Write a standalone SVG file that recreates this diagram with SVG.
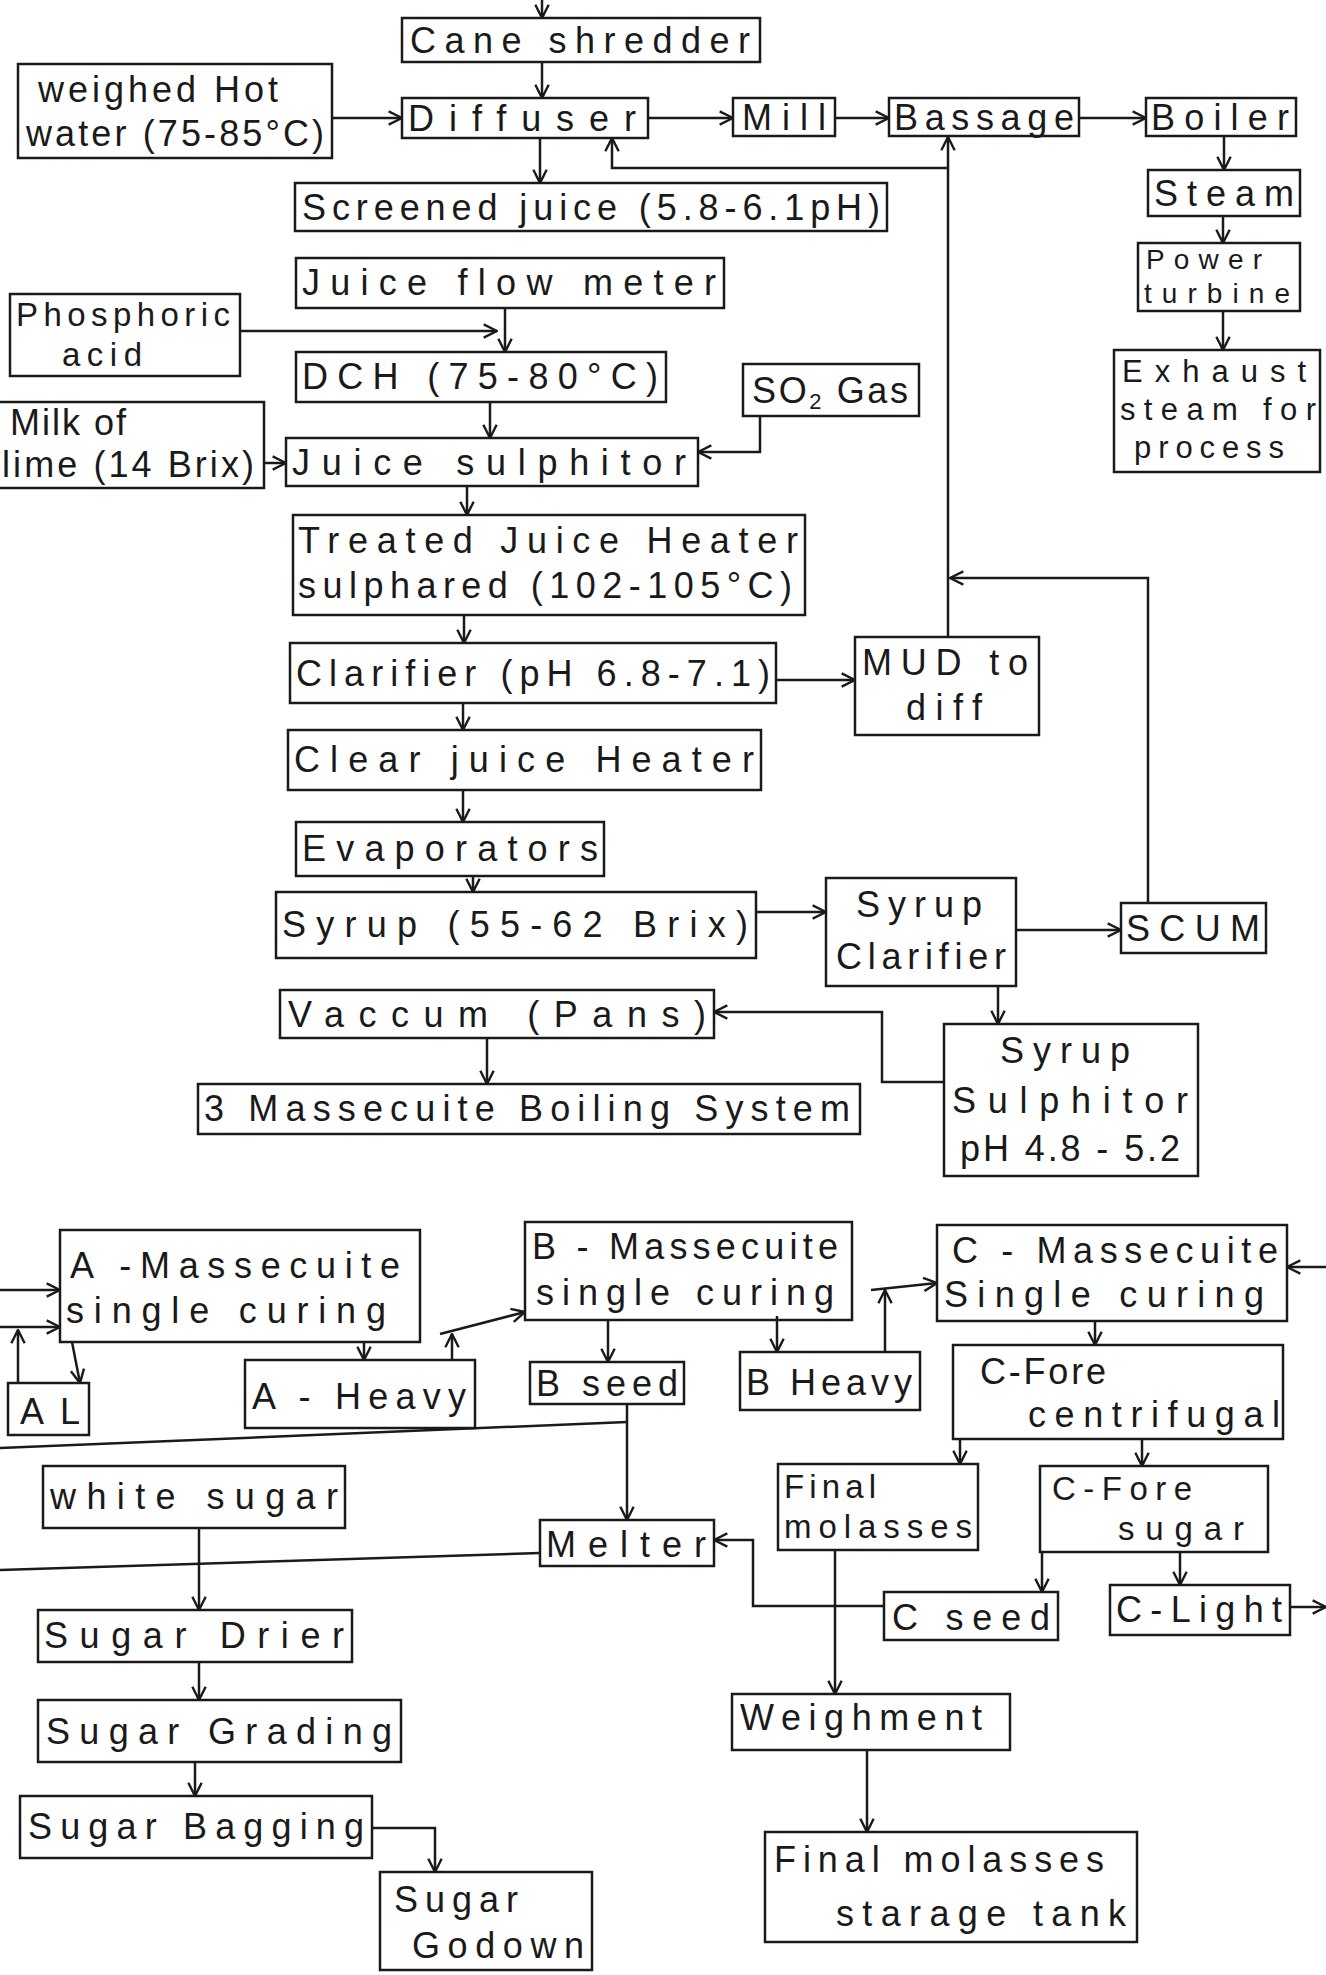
<svg xmlns="http://www.w3.org/2000/svg" width="1326" height="1975" viewBox="0 0 1326 1975">
<defs>
<style>
.t{font-family:"Liberation Sans",Arial,sans-serif;font-size:36px;fill:#1a1a1a}
.s{font-size:28px}
.m{font-size:31px}
.k{font-size:33px}
.b{fill:none;stroke:#1a1a1a;stroke-width:2.5}
.c{fill:none;stroke:#1a1a1a;stroke-width:2.5;marker-end:url(#a)}
.l{fill:none;stroke:#1a1a1a;stroke-width:2.5}
</style>
<marker id="a" viewBox="0 0 12 12" refX="11" refY="6" markerWidth="16" markerHeight="16" markerUnits="userSpaceOnUse" orient="auto">
<path d="M1,1 L11,6 L1,11" fill="none" stroke="#1a1a1a" stroke-width="1.8"/>
</marker>
</defs>
<rect width="1326" height="1975" fill="#ffffff"/>

<g id="n1"><rect class="b" x="402" y="18" width="358" height="44"/><text class="t" x="410" y="53" textLength="340" lengthAdjust="spacing">Cane shredder</text></g>
<g id="n2"><rect class="b" x="18" y="64" width="314" height="94"/><text class="t" x="38" y="102" textLength="240" lengthAdjust="spacing">weighed Hot</text><text class="t" x="26" y="146" textLength="298" lengthAdjust="spacing">water (75-85°C)</text></g>
<g id="n3"><rect class="b" x="402" y="98" width="246" height="40"/><text class="t" x="408" y="131" textLength="228" lengthAdjust="spacing">Diffuser</text></g>
<g id="n4"><rect class="b" x="733" y="98" width="102" height="38"/><text class="t" x="742" y="130" textLength="84" lengthAdjust="spacing">Mill</text></g>
<g id="n5"><rect class="b" x="889" y="98" width="190" height="38"/><text class="t" x="894" y="130" textLength="180" lengthAdjust="spacing">Bassage</text></g>
<g id="n6"><rect class="b" x="1146" y="98" width="150" height="38"/><text class="t" x="1151" y="130" textLength="138" lengthAdjust="spacing">Boiler</text></g>
<g id="n7"><rect class="b" x="295" y="183" width="592" height="48"/><text class="t" x="302" y="220" textLength="578" lengthAdjust="spacing">Screened juice (5.8-6.1pH)</text></g>
<g id="n8"><rect class="b" x="1148" y="170" width="152" height="46"/><text class="t" x="1154" y="206" textLength="140" lengthAdjust="spacing">Steam</text></g>
<g id="n9"><rect class="b" x="1138" y="243" width="162" height="68"/><text class="t s" x="1146" y="269" textLength="116" lengthAdjust="spacing">Power</text><text class="t s" x="1144" y="303" textLength="146" lengthAdjust="spacing">turbine</text></g>
<g id="n10"><rect class="b" x="1114" y="350" width="206" height="122"/><text class="t m" x="1122" y="382" textLength="184" lengthAdjust="spacing">Exhaust</text><text class="t m" x="1120" y="420" textLength="196" lengthAdjust="spacing">steam for</text><text class="t m" x="1134" y="458" textLength="150" lengthAdjust="spacing">process</text></g>
<g id="n11"><rect class="b" x="296" y="258" width="428" height="50"/><text class="t" x="302" y="295" textLength="414" lengthAdjust="spacing">Juice  flow meter</text></g>
<g id="n12"><rect class="b" x="10" y="294" width="230" height="82"/><text class="t k" x="16" y="326" textLength="214" lengthAdjust="spacing">Phosphoric</text><text class="t k" x="62" y="366" textLength="80" lengthAdjust="spacing">acid</text></g>
<g id="n13"><rect class="b" x="296" y="352" width="370" height="50"/><text class="t" x="302" y="389" textLength="356" lengthAdjust="spacing">DCH   (75-80°C)</text></g>
<g id="n14"><rect class="b" x="743" y="364" width="176" height="52"/><text class="t" x="752" y="403" textLength="156" lengthAdjust="spacing">SO<tspan font-size="22" baseline-shift="-6">2</tspan> Gas</text></g>
<g id="n15"><rect class="b" x="-2" y="402" width="266" height="86"/><text class="t" x="10" y="435" textLength="116" lengthAdjust="spacing">Milk of</text><text class="t" x="2" y="477" textLength="252" lengthAdjust="spacing">lime (14 Brix)</text></g>
<g id="n16"><rect class="b" x="286" y="438" width="412" height="48"/><text class="t" x="292" y="475" textLength="394" lengthAdjust="spacing">Juice   sulphitor</text></g>
<g id="n17"><rect class="b" x="293" y="515" width="512" height="100"/><text class="t" x="298" y="553" textLength="500" lengthAdjust="spacing">Treated  Juice Heater</text><text class="t" x="298" y="598" textLength="494" lengthAdjust="spacing">sulphared (102-105°C)</text></g>
<g id="n18"><rect class="b" x="290" y="643" width="486" height="60"/><text class="t" x="296" y="686" textLength="474" lengthAdjust="spacing">Clarifier (pH 6.8-7.1)</text></g>
<g id="n19"><rect class="b" x="855" y="637" width="184" height="98"/><text class="t" x="862" y="675" textLength="166" lengthAdjust="spacing">MUD to</text><text class="t" x="906" y="720" textLength="76" lengthAdjust="spacing">diff</text></g>
<g id="n20"><rect class="b" x="288" y="730" width="473" height="60"/><text class="t" x="294" y="772" textLength="460" lengthAdjust="spacing">Clear  juice  Heater</text></g>
<g id="n21"><rect class="b" x="296" y="822" width="308" height="54"/><text class="t" x="302" y="861" textLength="296" lengthAdjust="spacing">Evaporators</text></g>
<g id="n22"><rect class="b" x="276" y="892" width="480" height="66"/><text class="t" x="282" y="937" textLength="466" lengthAdjust="spacing">Syrup  (55-62 Brix)</text></g>
<g id="n23"><rect class="b" x="826" y="878" width="190" height="108"/><text class="t" x="856" y="917" textLength="126" lengthAdjust="spacing">Syrup</text><text class="t" x="836" y="969" textLength="170" lengthAdjust="spacing">Clarifier</text></g>
<g id="n24"><rect class="b" x="1121" y="903" width="145" height="50"/><text class="t" x="1126" y="941" textLength="134" lengthAdjust="spacing">SCUM</text></g>
<g id="n25"><rect class="b" x="280" y="990" width="434" height="48"/><text class="t" x="288" y="1027" textLength="418" lengthAdjust="spacing">Vaccum  (Pans)</text></g>
<g id="n26"><rect class="b" x="198" y="1084" width="662" height="50"/><text class="t" x="204" y="1121" textLength="646" lengthAdjust="spacing">3 Massecuite   Boiling System</text></g>
<g id="n27"><rect class="b" x="944" y="1024" width="254" height="152"/><text class="t" x="1000" y="1063" textLength="130" lengthAdjust="spacing">Syrup</text><text class="t" x="952" y="1113" textLength="236" lengthAdjust="spacing">Sulphitor</text><text class="t" x="960" y="1161" textLength="220" lengthAdjust="spacing">pH 4.8 - 5.2</text></g>
<g id="n28"><rect class="b" x="60" y="1230" width="360" height="112"/><text class="t" x="70" y="1278" textLength="330" lengthAdjust="spacing">A -Massecuite</text><text class="t" x="66" y="1323" textLength="320" lengthAdjust="spacing">single  curing</text></g>
<g id="n29"><rect class="b" x="8" y="1383" width="81" height="52"/><text class="t" x="20" y="1424" textLength="60" lengthAdjust="spacing">AL</text></g>
<g id="n30"><rect class="b" x="245" y="1360" width="230" height="68"/><text class="t" x="252" y="1409" textLength="214" lengthAdjust="spacing">A - Heavy</text></g>
<g id="n31"><rect class="b" x="525" y="1222" width="327" height="98"/><text class="t" x="532" y="1259" textLength="306" lengthAdjust="spacing">B - Massecuite</text><text class="t" x="536" y="1305" textLength="298" lengthAdjust="spacing">single  curing</text></g>
<g id="n32"><rect class="b" x="530" y="1362" width="154" height="42"/><text class="t" x="536" y="1396" textLength="142" lengthAdjust="spacing">B seed</text></g>
<g id="n33"><rect class="b" x="740" y="1352" width="180" height="58"/><text class="t" x="746" y="1395" textLength="166" lengthAdjust="spacing">B Heavy</text></g>
<g id="n34"><rect class="b" x="937" y="1225" width="350" height="96"/><text class="t" x="952" y="1263" textLength="326" lengthAdjust="spacing">C - Massecuite</text><text class="t" x="944" y="1307" textLength="320" lengthAdjust="spacing">Single  curing</text></g>
<g id="n35"><rect class="b" x="953" y="1345" width="330" height="94"/><text class="t" x="980" y="1384" textLength="126" lengthAdjust="spacing">C-Fore</text><text class="t" x="1028" y="1427" textLength="252" lengthAdjust="spacing">centrifugal</text></g>
<g id="n36"><rect class="b" x="43" y="1466" width="302" height="62"/><text class="t" x="50" y="1509" textLength="288" lengthAdjust="spacing">white sugar</text></g>
<g id="n37"><rect class="b" x="540" y="1520" width="174" height="46"/><text class="t" x="546" y="1557" textLength="160" lengthAdjust="spacing">Melter</text></g>
<g id="n38"><rect class="b" x="778" y="1464" width="200" height="86"/><text class="t k" x="784" y="1498" textLength="92" lengthAdjust="spacing">Final</text><text class="t k" x="784" y="1538" textLength="188" lengthAdjust="spacing">molasses</text></g>
<g id="n39"><rect class="b" x="1040" y="1466" width="228" height="86"/><text class="t k" x="1052" y="1500" textLength="140" lengthAdjust="spacing">C-Fore</text><text class="t k" x="1118" y="1540" textLength="126" lengthAdjust="spacing">sugar</text></g>
<g id="n40"><rect class="b" x="884" y="1592" width="174" height="48"/><text class="t" x="892" y="1630" textLength="158" lengthAdjust="spacing">C  seed</text></g>
<g id="n41"><rect class="b" x="1110" y="1585" width="180" height="50"/><text class="t" x="1116" y="1622" textLength="166" lengthAdjust="spacing">C-Light</text></g>
<g id="n42"><rect class="b" x="38" y="1610" width="314" height="52"/><text class="t" x="44" y="1648" textLength="300" lengthAdjust="spacing">Sugar Drier</text></g>
<g id="n43"><rect class="b" x="38" y="1700" width="363" height="62"/><text class="t" x="46" y="1744" textLength="346" lengthAdjust="spacing">Sugar  Grading</text></g>
<g id="n44"><rect class="b" x="732" y="1694" width="278" height="56"/><text class="t" x="740" y="1730" textLength="242" lengthAdjust="spacing">Weighment</text></g>
<g id="n45"><rect class="b" x="20" y="1796" width="352" height="62"/><text class="t" x="28" y="1839" textLength="336" lengthAdjust="spacing">Sugar  Bagging</text></g>
<g id="n46"><rect class="b" x="380" y="1872" width="212" height="98"/><text class="t" x="394" y="1912" textLength="124" lengthAdjust="spacing">Sugar</text><text class="t" x="412" y="1958" textLength="172" lengthAdjust="spacing">Godown</text></g>
<g id="n47"><rect class="b" x="765" y="1832" width="372" height="110"/><text class="t" x="774" y="1872" textLength="330" lengthAdjust="spacing">Final molasses</text><text class="t" x="836" y="1926" textLength="290" lengthAdjust="spacing">starage tank</text></g>

<g id="connectors">
<path class="c" d="M542,0 V18"/>
<path class="c" d="M542,62 V98"/>
<path class="c" d="M332,118 H402"/>
<path class="c" d="M648,118 H733"/>
<path class="c" d="M835,118 H889"/>
<path class="c" d="M1079,118 H1146"/>
<path class="c" d="M540,138 V183"/>
<path class="c" d="M948,637 V137"/>
<path class="c" d="M948,168 H612 V138"/>
<path class="c" d="M1224,136 V170"/>
<path class="c" d="M1223,216 V243"/>
<path class="c" d="M1223,311 V350"/>
<path class="c" d="M240,331 H497"/>
<path class="c" d="M505,308 V352"/>
<path class="c" d="M490,402 V438"/>
<path class="c" d="M264,463 H286"/>
<path class="c" d="M760,416 V452 H698"/>
<path class="c" d="M467,486 V515"/>
<path class="c" d="M464,615 V643"/>
<path class="c" d="M776,680 H855"/>
<path class="c" d="M463,703 V730"/>
<path class="c" d="M463,790 V822"/>
<path class="c" d="M473,876 V892"/>
<path class="c" d="M756,912 H826"/>
<path class="c" d="M1016,930 H1121"/>
<path class="c" d="M1148,903 V578 H950"/>
<path class="c" d="M998,986 V1024"/>
<path class="c" d="M944,1082 H882 V1012 H714"/>
<path class="c" d="M487,1038 V1084"/>
<path class="c" d="M0,1290 H60"/>
<path class="c" d="M18,1383 V1330"/>
<path class="c" d="M0,1327 H60"/>
<path class="c" d="M72,1342 L80,1383"/>
<path class="c" d="M364,1342 V1360"/>
<path class="c" d="M452,1360 V1334"/>
<path class="c" d="M440,1334 L525,1312"/>
<path class="c" d="M608,1320 V1362"/>
<path class="c" d="M777,1316 V1352"/>
<path class="c" d="M885,1352 V1290"/>
<path class="c" d="M871,1290 L937,1283"/>
<path class="c" d="M1095,1321 V1345"/>
<path class="c" d="M1326,1267 H1287"/>
<path class="c" d="M627,1404 V1520"/>
<path class="l" d="M627,1422 L0,1448"/>
<path class="l" d="M540,1553 L0,1570"/>
<path class="c" d="M199,1528 V1610"/>
<path class="c" d="M960,1439 V1464"/>
<path class="c" d="M1142,1439 V1466"/>
<path class="c" d="M1042,1552 V1592"/>
<path class="c" d="M1180,1552 V1585"/>
<path class="c" d="M1290,1607 H1326"/>
<path class="c" d="M884,1606 H753 V1540 H714"/>
<path class="c" d="M835,1550 V1694"/>
<path class="c" d="M199,1662 V1700"/>
<path class="c" d="M195,1762 V1796"/>
<path class="c" d="M372,1828 H435 V1872"/>
<path class="c" d="M867,1750 V1832"/>
</g>
</svg>
